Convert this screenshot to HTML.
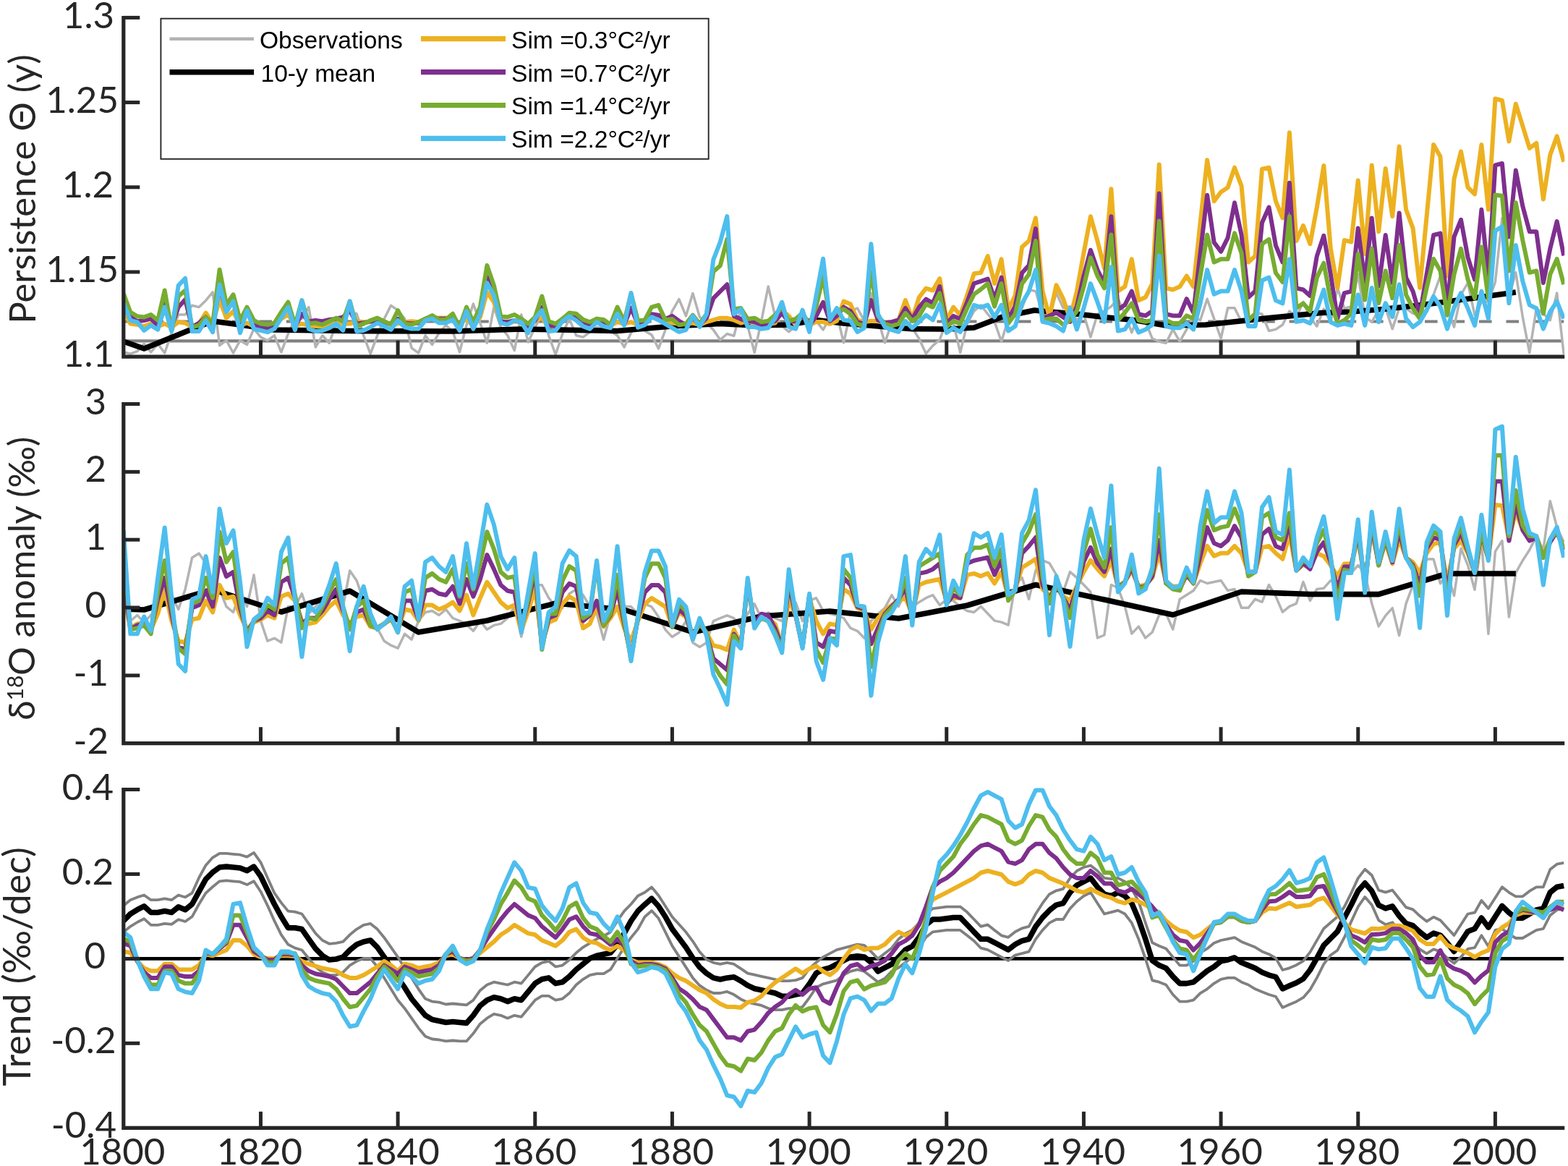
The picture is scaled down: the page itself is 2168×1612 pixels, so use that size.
<!DOCTYPE html>
<html><head><meta charset="utf-8"><title>Persistence and d18O trends</title>
<style>html,body{margin:0;padding:0;background:#fff;overflow:hidden}svg{display:block}</style>
</head><body>
<svg width="2168" height="1612" viewBox="0 0 2168 1612">
<rect width="2168" height="1612" fill="#fff"/>
<defs><clipPath id="c1"><rect x="170.8" y="0" width="1992.43" height="495"/></clipPath><clipPath id="c2"><rect x="170.8" y="540" width="1992.43" height="490"/></clipPath><clipPath id="c3"><rect x="170.8" y="1080" width="1992.43" height="482"/></clipPath></defs>
<g clip-path="url(#c1)">
<line x1="170.8" y1="471.4008000000003" x2="2160.23" y2="471.4008000000003" stroke="#808080" stroke-width="4.2"/>
<line x1="170.8" y1="444.5" x2="2162.23" y2="444.5" stroke="#808080" stroke-width="4.2" stroke-dasharray="17.6 19.88" stroke-dashoffset="37.3"/>
<polyline points="170.8,486.8 180.3,489.2 189.8,485.7 199.2,475.3 208.7,486.8 218.2,475.3 227.7,488.0 237.2,460.3 246.7,435.0 256.1,435.0 265.6,422.3 275.1,424.6 284.6,415.4 294.1,403.8 303.6,477.6 313.0,470.7 322.5,488.0 332.0,470.7 341.5,476.5 351.0,454.6 360.5,466.1 369.9,470.7 379.4,463.8 388.9,486.8 398.4,461.5 407.9,440.7 417.4,440.7 426.8,424.6 436.3,479.9 445.8,463.8 455.3,474.2 464.8,447.6 474.3,440.7 483.7,431.5 493.2,433.8 502.7,463.8 512.2,489.2 521.7,463.8 531.2,440.7 540.6,422.3 550.1,429.2 559.6,440.7 569.1,481.1 578.6,488.0 588.1,463.8 597.5,476.5 607.0,460.3 616.5,449.9 626.0,458.0 635.5,486.8 645.0,449.4 654.4,420.0 663.9,446.5 673.4,474.2 682.9,424.6 692.4,452.3 701.8,463.8 711.3,484.5 720.8,435.0 730.3,473.0 739.8,452.3 749.3,435.0 758.7,463.8 768.2,490.3 777.7,461.5 787.2,440.7 796.7,463.8 806.2,466.1 815.6,459.2 825.1,452.3 834.6,454.6 844.1,458.0 853.6,463.8 863.1,479.9 872.5,460.3 882.0,447.7 891.5,457.4 901.0,462.9 910.5,482.0 920.0,456.0 929.4,430.1 938.9,413.7 948.4,436.9 957.9,405.5 967.4,438.3 976.9,446.5 986.3,456.0 995.8,469.7 1005.3,461.5 1014.8,464.2 1024.3,427.4 1033.8,450.6 1043.2,487.4 1052.7,443.8 1062.2,396.0 1071.7,436.9 1081.2,450.6 1090.7,458.8 1100.1,450.6 1109.6,442.4 1119.1,450.6 1128.6,443.8 1138.1,456.0 1147.5,438.3 1157.0,434.2 1166.5,473.8 1176.0,430.1 1185.5,426.0 1195.0,443.8 1204.4,405.5 1213.9,441.0 1223.4,473.8 1232.9,446.5 1242.4,441.0 1251.9,443.8 1261.3,453.3 1270.8,468.3 1280.3,488.8 1289.8,477.9 1299.3,469.7 1308.8,443.8 1318.2,446.5 1327.7,487.4 1337.2,447.8 1346.7,430.1 1356.2,421.8 1365.7,434.3 1375.1,444.8 1384.6,472.2 1394.1,440.6 1403.6,419.5 1413.1,425.8 1422.6,400.5 1432.0,402.6 1441.5,434.3 1451.0,438.5 1460.5,404.7 1470.0,425.8 1479.5,423.7 1488.9,442.7 1498.4,434.3 1507.9,465.9 1517.4,434.3 1526.9,430.0 1536.4,423.7 1545.8,413.2 1555.3,434.3 1564.8,459.6 1574.3,434.3 1583.8,444.8 1593.2,468.0 1602.7,472.2 1612.2,474.3 1621.7,455.4 1631.2,472.2 1640.7,455.4 1650.1,438.5 1659.6,442.7 1669.1,413.2 1678.6,440.6 1688.1,468.0 1697.6,425.8 1707.0,425.8 1716.5,444.8 1726.0,440.6 1735.5,432.2 1745.0,434.3 1754.5,457.5 1763.9,455.4 1773.4,449.0 1782.9,430.0 1792.4,438.5 1801.9,417.4 1811.4,438.5 1820.8,451.1 1830.3,427.1 1839.8,445.2 1849.3,398.0 1858.8,426.3 1868.3,424.0 1877.7,379.2 1887.2,438.1 1896.7,445.2 1906.2,428.7 1915.7,426.3 1925.2,454.6 1934.6,426.3 1944.1,426.3 1953.6,433.4 1963.1,435.7 1972.6,428.7 1982.1,407.5 1991.5,381.5 2001.0,426.3 2010.5,452.2 2020.0,407.5 2029.5,391.0 2039.0,435.7 2048.4,418.1 2057.9,416.9 2067.4,389.8 2076.9,301.4 2086.4,409.8 2095.8,376.8 2105.3,438.1 2114.8,487.6 2124.3,426.3 2133.8,433.4 2143.3,442.8 2152.7,405.1 2162.2,489.9" fill="none" stroke="#b3b3b3" stroke-width="3.5" stroke-linejoin="round" />
<polyline points="170.8,472.0 199.2,482.0 265.6,455.0 294.1,444.0 332.0,449.0 379.4,456.0 483.7,457.5 626.0,458.0 720.8,455.0 853.6,457.5 929.4,451.0 995.8,447.5 1043.2,450.0 1090.7,449.0 1128.6,442.4 1166.5,447.0 1213.9,451.0 1261.3,454.7 1308.8,455.0 1346.7,453.0 1384.6,438.5 1430.1,429.0 1451.0,431.0 1488.9,434.0 1526.9,438.5 1569.5,442.7 1612.2,450.0 1667.2,449.0 1707.0,444.8 1745.0,440.6 1787.7,436.4 1826.5,432.5 1868.3,431.0 1911.9,427.5 1956.4,422.8 2001.0,416.9 2045.6,411.0 2095.8,404.0" fill="none" stroke="#000000" stroke-width="7.6" stroke-linejoin="round" />
<polyline points="170.8,429.2 180.3,447.6 189.8,448.8 199.2,451.1 208.7,447.6 218.2,451.1 227.7,447.6 237.2,452.3 246.7,445.3 256.1,446.5 265.6,452.3 275.1,447.6 284.6,432.6 294.1,447.6 303.6,414.2 313.0,439.6 322.5,430.3 332.0,449.9 341.5,446.5 351.0,451.1 360.5,452.3 369.9,452.3 379.4,451.1 388.9,440.7 398.4,435.0 407.9,449.9 417.4,447.6 426.8,449.9 436.3,451.1 445.8,451.1 455.3,448.8 464.8,446.5 474.3,447.6 483.7,447.6 493.2,444.2 502.7,445.3 512.2,445.3 521.7,445.3 531.2,447.6 540.6,447.6 550.1,447.6 559.6,445.3 569.1,444.2 578.6,445.3 588.1,441.9 597.5,440.7 607.0,439.6 616.5,439.6 626.0,441.9 635.5,447.6 645.0,440.7 654.4,451.1 663.9,438.4 673.4,403.8 682.9,417.7 692.4,445.3 701.8,447.6 711.3,444.2 720.8,445.3 730.3,449.9 739.8,443.0 749.3,439.6 758.7,451.1 768.2,452.3 777.7,440.7 787.2,433.8 796.7,440.7 806.2,447.6 815.6,448.8 825.1,440.7 834.6,447.6 844.1,449.9 853.6,445.3 863.1,447.6 872.5,445.3 882.0,448.8 891.5,446.5 901.0,438.3 910.5,436.9 920.0,442.4 929.4,446.5 938.9,447.8 948.4,447.8 957.9,446.5 967.4,449.2 976.9,445.1 986.3,442.4 995.8,439.7 1005.3,439.7 1014.8,442.4 1024.3,446.5 1033.8,443.8 1043.2,447.8 1052.7,450.6 1062.2,447.8 1071.7,446.5 1081.2,428.7 1090.7,436.9 1100.1,449.2 1109.6,435.6 1119.1,449.2 1128.6,445.1 1138.1,445.1 1147.5,447.8 1157.0,443.8 1166.5,416.5 1176.0,420.6 1185.5,442.4 1195.0,445.1 1204.4,443.8 1213.9,443.8 1223.4,446.5 1232.9,445.1 1242.4,442.4 1251.9,415.1 1261.3,441.0 1270.8,411.0 1280.3,398.7 1289.8,401.5 1299.3,385.1 1308.8,442.4 1318.2,424.7 1327.7,435.6 1337.2,408.3 1346.7,378.3 1356.2,377.1 1365.7,354.1 1375.1,392.1 1384.6,358.3 1394.1,427.9 1403.6,408.9 1413.1,341.4 1422.6,333.0 1432.0,301.4 1441.5,402.6 1451.0,438.5 1460.5,394.2 1470.0,413.2 1479.5,440.6 1488.9,402.6 1498.4,349.9 1507.9,299.2 1517.4,333.0 1526.9,371.0 1536.4,261.3 1545.8,402.6 1555.3,396.3 1564.8,358.3 1574.3,415.3 1583.8,411.1 1593.2,392.1 1602.7,227.5 1612.2,398.4 1621.7,400.5 1631.2,396.3 1640.7,381.5 1650.1,396.3 1659.6,307.7 1669.1,221.2 1678.6,278.1 1688.1,265.5 1697.6,259.2 1707.0,231.7 1716.5,257.0 1726.0,362.5 1735.5,354.1 1745.0,233.8 1754.5,231.7 1763.9,278.1 1773.4,301.4 1782.9,183.2 1792.4,333.0 1801.9,311.9 1811.4,337.2 1820.8,286.6 1830.3,229.0 1839.8,343.8 1849.3,398.0 1858.8,332.1 1868.3,334.4 1877.7,249.6 1887.2,350.9 1896.7,228.4 1906.2,320.3 1915.7,233.1 1925.2,299.1 1934.6,202.5 1944.1,289.7 1953.6,315.6 1963.1,398.0 1972.6,299.1 1982.1,200.1 1991.5,216.6 2001.0,381.5 2010.5,247.2 2020.0,209.5 2029.5,259.0 2039.0,268.4 2048.4,200.1 2057.9,289.7 2067.4,136.5 2076.9,138.9 2086.4,195.4 2095.8,143.6 2105.3,174.2 2114.8,204.8 2124.3,197.8 2133.8,275.5 2143.3,214.3 2152.7,188.3 2162.2,223.7" fill="none" stroke="#EDB120" stroke-width="6.0" stroke-linejoin="round" />
<polyline points="170.8,424.6 180.3,438.4 189.8,444.2 199.2,443.0 208.7,440.7 218.2,449.9 227.7,420.0 237.2,452.3 246.7,424.6 256.1,414.2 265.6,452.3 275.1,446.5 284.6,438.4 294.1,448.8 303.6,396.9 313.0,430.3 322.5,415.4 332.0,449.9 341.5,431.5 351.0,449.9 360.5,451.1 369.9,453.4 379.4,449.9 388.9,436.1 398.4,424.6 407.9,451.7 417.4,433.8 426.8,444.2 436.3,443.0 445.8,444.2 455.3,441.9 464.8,440.7 474.3,438.4 483.7,429.2 493.2,447.6 502.7,446.5 512.2,444.2 521.7,443.0 531.2,446.5 540.6,447.6 550.1,440.7 559.6,446.5 569.1,447.6 578.6,446.5 588.1,440.7 597.5,439.6 607.0,440.7 616.5,440.7 626.0,438.4 635.5,452.3 645.0,429.2 654.4,449.9 663.9,431.5 673.4,383.1 682.9,403.8 692.4,444.2 701.8,445.3 711.3,443.0 720.8,445.3 730.3,452.3 739.8,443.0 749.3,424.6 758.7,449.9 768.2,451.1 777.7,444.2 787.2,435.0 796.7,439.6 806.2,447.6 815.6,449.9 825.1,443.0 834.6,447.6 844.1,451.1 853.6,433.8 863.1,448.8 872.5,425.7 882.0,448.3 891.5,443.8 901.0,434.2 910.5,435.6 920.0,441.0 929.4,436.9 938.9,443.8 948.4,449.2 957.9,439.7 967.4,449.2 976.9,439.7 986.3,412.4 995.8,402.8 1005.3,393.3 1014.8,436.9 1024.3,441.0 1033.8,443.8 1043.2,445.1 1052.7,449.2 1062.2,447.8 1071.7,443.8 1081.2,432.8 1090.7,445.1 1100.1,443.8 1109.6,436.9 1119.1,450.6 1128.6,436.9 1138.1,417.8 1147.5,443.8 1157.0,436.9 1166.5,424.7 1176.0,430.1 1185.5,445.1 1195.0,447.8 1204.4,415.1 1213.9,442.4 1223.4,446.5 1232.9,445.1 1242.4,442.4 1251.9,426.0 1261.3,441.0 1270.8,424.7 1280.3,413.7 1289.8,419.2 1299.3,396.0 1308.8,447.8 1318.2,436.9 1327.7,441.0 1337.2,417.8 1346.7,391.9 1356.2,388.9 1365.7,385.7 1375.1,413.2 1384.6,383.6 1394.1,440.6 1403.6,423.7 1413.1,377.3 1422.6,366.8 1432.0,316.1 1441.5,440.6 1451.0,436.4 1460.5,432.2 1470.0,438.5 1479.5,444.8 1488.9,423.7 1498.4,381.5 1507.9,345.7 1517.4,373.1 1526.9,392.1 1536.4,299.2 1545.8,427.9 1555.3,421.6 1564.8,402.6 1574.3,434.3 1583.8,436.4 1593.2,430.0 1602.7,267.6 1612.2,434.3 1621.7,436.4 1631.2,436.4 1640.7,413.2 1650.1,432.2 1659.6,349.9 1669.1,269.7 1678.6,335.1 1688.1,347.8 1697.6,328.8 1707.0,280.3 1716.5,324.6 1726.0,411.1 1735.5,402.6 1745.0,307.7 1754.5,286.6 1763.9,339.3 1773.4,362.5 1782.9,252.8 1792.4,398.4 1801.9,400.5 1811.4,408.9 1820.8,354.1 1830.3,325.8 1839.8,379.2 1849.3,440.5 1858.8,405.1 1868.3,402.8 1877.7,315.6 1887.2,391.0 1896.7,301.4 1906.2,395.7 1915.7,325.0 1925.2,391.0 1934.6,294.4 1944.1,383.9 1953.6,402.8 1963.1,435.7 1972.6,379.2 1982.1,325.0 1991.5,322.6 2001.0,426.3 2010.5,327.4 2020.0,303.8 2029.5,355.6 2039.0,386.3 2048.4,289.7 2057.9,385.1 2067.4,228.4 2076.9,226.0 2086.4,327.4 2095.8,235.5 2105.3,284.9 2114.8,320.3 2124.3,320.3 2133.8,391.0 2143.3,343.8 2152.7,306.1 2162.2,353.3" fill="none" stroke="#7E2F8E" stroke-width="6.0" stroke-linejoin="round" />
<polyline points="170.8,406.1 180.3,431.5 189.8,437.3 199.2,438.4 208.7,435.0 218.2,443.0 227.7,401.5 237.2,456.9 246.7,409.6 256.1,401.5 265.6,452.3 275.1,449.9 284.6,438.4 294.1,447.6 303.6,372.7 313.0,421.1 322.5,407.3 332.0,443.0 341.5,424.6 351.0,443.0 360.5,447.6 369.9,448.8 379.4,446.5 388.9,431.5 398.4,417.7 407.9,449.9 417.4,415.4 426.8,447.6 436.3,446.5 445.8,448.8 455.3,444.2 464.8,439.6 474.3,444.2 483.7,416.5 493.2,451.1 502.7,447.6 512.2,443.0 521.7,439.6 531.2,444.2 540.6,448.8 550.1,429.2 559.6,447.6 569.1,448.8 578.6,445.3 588.1,440.7 597.5,436.1 607.0,441.9 616.5,441.9 626.0,433.8 635.5,452.3 645.0,424.6 654.4,445.3 663.9,424.6 673.4,366.9 682.9,394.6 692.4,437.3 701.8,438.4 711.3,435.0 720.8,440.7 730.3,447.6 739.8,438.4 749.3,409.6 758.7,444.2 768.2,447.6 777.7,440.7 787.2,432.6 796.7,433.8 806.2,441.9 815.6,445.3 825.1,440.7 834.6,441.9 844.1,448.8 853.6,424.6 863.1,444.2 872.5,406.1 882.0,443.4 891.5,442.4 901.0,424.7 910.5,421.9 920.0,442.4 929.4,441.0 938.9,449.2 948.4,447.8 957.9,435.6 967.4,447.8 976.9,434.2 986.3,375.5 995.8,367.3 1005.3,330.5 1014.8,427.4 1024.3,426.0 1033.8,441.0 1043.2,439.7 1052.7,445.1 1062.2,443.8 1071.7,435.6 1081.2,424.7 1090.7,443.8 1100.1,441.0 1109.6,432.8 1119.1,448.5 1128.6,423.3 1138.1,382.3 1147.5,439.7 1157.0,430.1 1166.5,427.4 1176.0,434.2 1185.5,447.8 1195.0,450.6 1204.4,375.5 1213.9,436.9 1223.4,447.8 1232.9,450.6 1242.4,447.8 1251.9,432.8 1261.3,443.8 1270.8,436.9 1280.3,420.6 1289.8,424.7 1299.3,405.5 1308.8,451.9 1318.2,443.8 1327.7,447.8 1337.2,426.0 1346.7,406.9 1356.2,400.0 1365.7,392.1 1375.1,423.7 1384.6,392.1 1394.1,446.9 1403.6,434.3 1413.1,392.1 1422.6,379.4 1432.0,333.0 1441.5,442.7 1451.0,440.6 1460.5,440.6 1470.0,449.0 1479.5,442.7 1488.9,430.0 1498.4,396.3 1507.9,356.2 1517.4,381.5 1526.9,398.4 1536.4,324.6 1545.8,442.7 1555.3,432.2 1564.8,419.5 1574.3,442.7 1583.8,444.8 1593.2,442.7 1602.7,305.6 1612.2,442.7 1621.7,446.9 1631.2,446.9 1640.7,436.4 1650.1,440.6 1659.6,381.5 1669.1,324.6 1678.6,362.5 1688.1,358.3 1697.6,358.3 1707.0,322.4 1716.5,349.9 1726.0,442.7 1735.5,434.3 1745.0,337.2 1754.5,330.9 1763.9,377.3 1773.4,390.0 1782.9,299.2 1792.4,425.8 1801.9,419.5 1811.4,430.0 1820.8,383.6 1830.3,363.7 1839.8,414.5 1849.3,447.5 1858.8,442.8 1868.3,433.4 1877.7,350.9 1887.2,414.5 1896.7,343.8 1906.2,419.2 1915.7,374.5 1925.2,412.2 1934.6,339.1 1944.1,407.5 1953.6,426.3 1963.1,440.5 1972.6,398.0 1982.1,358.0 1991.5,374.5 2001.0,435.7 2010.5,379.2 2020.0,343.8 2029.5,386.3 2039.0,412.2 2048.4,341.5 2057.9,413.4 2067.4,269.6 2076.9,270.8 2086.4,374.5 2095.8,280.2 2105.3,332.1 2114.8,376.8 2124.3,374.5 2133.8,433.4 2143.3,379.2 2152.7,358.0 2162.2,393.3" fill="none" stroke="#77AC30" stroke-width="6.0" stroke-linejoin="round" />
<polyline points="170.8,418.8 180.3,443.0 189.8,445.3 199.2,456.9 208.7,449.9 218.2,455.7 227.7,424.6 237.2,458.0 246.7,394.6 256.1,384.8 265.6,458.0 275.1,458.0 284.6,443.0 294.1,459.2 303.6,393.4 313.0,431.5 322.5,416.5 332.0,460.3 341.5,429.2 351.0,454.6 360.5,456.9 369.9,459.2 379.4,454.6 388.9,439.6 398.4,424.6 407.9,456.3 417.4,415.4 426.8,454.6 436.3,458.0 445.8,456.9 455.3,453.4 464.8,447.6 474.3,456.9 483.7,416.5 493.2,458.0 502.7,456.9 512.2,452.3 521.7,446.5 531.2,451.1 540.6,455.7 550.1,443.0 559.6,452.3 569.1,454.6 578.6,454.6 588.1,443.0 597.5,440.7 607.0,446.5 616.5,446.5 626.0,441.9 635.5,456.9 645.0,430.3 654.4,454.6 663.9,433.8 673.4,391.1 682.9,408.4 692.4,446.5 701.8,448.8 711.3,443.0 720.8,445.3 730.3,460.3 739.8,440.7 749.3,429.2 758.7,458.0 768.2,456.9 777.7,444.2 787.2,437.3 796.7,443.0 806.2,451.1 815.6,454.6 825.1,445.3 834.6,451.1 844.1,453.4 853.6,433.8 863.1,449.9 872.5,405.0 882.0,452.8 891.5,449.2 901.0,438.3 910.5,442.4 920.0,447.8 929.4,453.3 938.9,458.8 948.4,456.0 957.9,436.9 967.4,451.9 976.9,434.2 986.3,359.1 995.8,334.6 1005.3,299.1 1014.8,434.2 1024.3,427.4 1033.8,451.9 1043.2,451.9 1052.7,454.7 1062.2,453.3 1071.7,439.7 1081.2,417.8 1090.7,451.9 1100.1,454.7 1109.6,428.7 1119.1,458.8 1128.6,408.3 1138.1,357.8 1147.5,442.4 1157.0,426.0 1166.5,442.4 1176.0,443.8 1185.5,458.8 1195.0,453.3 1204.4,337.3 1213.9,434.2 1223.4,451.9 1232.9,456.0 1242.4,458.8 1251.9,443.8 1261.3,453.3 1270.8,445.1 1280.3,435.6 1289.8,442.4 1299.3,420.6 1308.8,460.1 1318.2,453.3 1327.7,458.8 1337.2,443.8 1346.7,421.9 1356.2,424.9 1365.7,421.6 1375.1,438.5 1384.6,421.6 1394.1,457.5 1403.6,451.1 1413.1,419.5 1422.6,402.6 1432.0,373.1 1441.5,444.8 1451.0,446.9 1460.5,451.1 1470.0,457.5 1479.5,425.8 1488.9,455.4 1498.4,425.8 1507.9,392.1 1517.4,417.4 1526.9,444.8 1536.4,368.9 1545.8,457.5 1555.3,455.4 1564.8,440.6 1574.3,459.6 1583.8,455.4 1593.2,449.0 1602.7,354.1 1612.2,451.1 1621.7,453.2 1631.2,453.2 1640.7,446.9 1650.1,455.4 1659.6,419.5 1669.1,373.1 1678.6,406.8 1688.1,402.6 1697.6,402.6 1707.0,373.1 1716.5,402.6 1726.0,451.1 1735.5,451.1 1745.0,387.8 1754.5,383.6 1763.9,415.3 1773.4,419.5 1782.9,358.3 1792.4,444.8 1801.9,442.7 1811.4,446.9 1820.8,427.9 1830.3,400.5 1839.8,445.2 1849.3,449.9 1858.8,447.5 1868.3,449.9 1877.7,407.5 1887.2,449.9 1896.7,398.0 1906.2,445.2 1915.7,419.2 1925.2,438.1 1934.6,393.3 1944.1,440.5 1953.6,452.2 1963.1,445.2 1972.6,428.7 1982.1,409.8 1991.5,424.0 2001.0,454.6 2010.5,425.1 2020.0,405.1 2029.5,426.3 2039.0,449.9 2048.4,402.8 2057.9,440.5 2067.4,319.1 2076.9,313.2 2086.4,419.2 2095.8,339.1 2105.3,388.6 2114.8,421.6 2124.3,426.3 2133.8,454.6 2143.3,431.0 2152.7,416.9 2162.2,440.5" fill="none" stroke="#4DBEEE" stroke-width="6.0" stroke-linejoin="round" />
</g>
<g clip-path="url(#c2)">
<polyline points="170.8,836.6 180.3,858.4 189.8,850.5 199.2,860.4 208.7,850.5 218.2,838.6 227.7,828.6 237.2,822.7 246.7,842.5 256.1,814.7 265.6,771.1 275.1,765.1 284.6,779.0 294.1,838.6 303.6,814.7 313.0,838.6 322.5,846.5 332.0,818.7 341.5,838.6 351.0,794.9 360.5,858.4 369.9,886.2 379.4,882.3 388.9,888.2 398.4,838.6 407.9,838.6 417.4,820.7 426.8,848.5 436.3,838.6 445.8,828.6 455.3,818.7 464.8,814.7 474.3,838.6 483.7,788.9 493.2,802.8 502.7,830.6 512.2,854.5 521.7,868.4 531.2,886.2 540.6,892.2 550.1,896.2 559.6,876.3 569.1,884.2 578.6,858.4 588.1,846.5 597.5,844.5 607.0,850.5 616.5,842.5 626.0,854.5 635.5,858.4 645.0,863.4 654.4,872.3 663.9,858.4 673.4,870.3 682.9,864.4 692.4,862.4 701.8,854.5 711.3,838.6 720.8,880.3 730.3,838.6 739.8,808.8 749.3,808.8 758.7,826.7 768.2,838.6 777.7,840.6 787.2,820.7 796.7,814.7 806.2,822.7 815.6,838.6 825.1,848.5 834.6,884.2 844.1,848.5 853.6,838.6 863.1,838.6 872.5,838.6 882.0,848.8 891.5,834.9 901.0,838.9 910.5,852.8 920.0,870.6 929.4,880.6 938.9,874.6 948.4,858.7 957.9,888.5 967.4,894.5 976.9,888.5 986.3,858.7 995.8,854.7 1005.3,850.8 1014.8,854.7 1024.3,868.6 1033.8,848.8 1043.2,834.9 1052.7,854.7 1062.2,846.8 1071.7,854.7 1081.2,858.7 1090.7,823.0 1100.1,832.9 1109.6,858.7 1119.1,830.6 1128.6,826.7 1138.1,844.5 1147.5,848.5 1157.0,850.5 1166.5,854.5 1176.0,868.4 1185.5,872.3 1195.0,882.3 1204.4,858.4 1213.9,848.5 1223.4,840.6 1232.9,822.7 1242.4,838.6 1251.9,818.7 1261.3,838.6 1270.8,832.6 1280.3,826.7 1289.8,822.7 1299.3,836.6 1308.8,828.6 1318.2,830.6 1327.7,838.6 1337.2,844.5 1346.7,846.5 1356.2,838.3 1365.7,848.2 1375.1,858.1 1384.6,860.1 1394.1,864.1 1403.6,808.5 1413.1,798.6 1422.6,828.4 1432.0,788.6 1441.5,774.7 1451.0,778.7 1460.5,794.6 1470.0,818.4 1479.5,790.6 1488.9,798.6 1498.4,808.5 1507.9,818.4 1517.4,882.0 1526.9,878.0 1536.4,808.5 1545.8,812.5 1555.3,838.3 1564.8,876.0 1574.3,866.1 1583.8,882.0 1593.2,874.0 1602.7,850.2 1612.2,848.2 1621.7,870.1 1631.2,828.4 1640.7,822.4 1650.1,816.4 1659.6,802.5 1669.1,806.5 1678.6,804.5 1688.1,802.5 1697.6,816.4 1707.0,814.5 1716.5,840.3 1726.0,840.3 1735.5,828.4 1745.0,832.3 1754.5,808.5 1763.9,824.4 1773.4,846.2 1782.9,838.3 1792.4,834.3 1801.9,804.5 1811.4,830.3 1820.8,814.5 1830.3,813.2 1839.8,802.6 1849.3,806.8 1858.8,781.5 1868.3,792.1 1877.7,781.5 1887.2,792.1 1896.7,834.3 1906.2,865.9 1915.7,851.1 1925.2,840.6 1934.6,878.6 1944.1,834.3 1953.6,808.9 1963.1,802.6 1972.6,773.1 1982.1,773.1 1991.5,806.8 2001.0,792.1 2010.5,823.6 2020.0,758.2 2029.5,781.4 2039.0,815.2 2048.4,747.7 2057.9,876.3 2067.4,762.4 2076.9,747.6 2086.4,853.0 2095.8,791.9 2105.3,775.0 2114.8,760.3 2124.3,741.3 2133.8,760.3 2143.3,692.8 2152.7,728.6 2162.2,749.7" fill="none" stroke="#b3b3b3" stroke-width="3.5" stroke-linejoin="round" />
<polyline points="170.8,842.0 199.2,843.0 294.1,815.0 388.9,846.0 483.7,817.0 578.6,874.0 673.4,858.0 768.2,834.0 863.1,843.0 957.9,874.0 1052.7,852.0 1147.5,845.0 1242.4,855.0 1337.2,837.0 1432.0,808.5 1526.9,829.0 1621.7,850.0 1716.5,818.0 1811.4,821.5 1906.2,821.6 2001.0,793.0 2095.8,793.0" fill="none" stroke="#000000" stroke-width="7.6" stroke-linejoin="round" />
<polyline points="170.8,822.7 180.3,868.4 189.8,862.4 199.2,860.4 208.7,870.3 218.2,848.5 227.7,814.7 237.2,858.4 246.7,886.2 256.1,888.2 265.6,856.4 275.1,854.5 284.6,830.6 294.1,846.5 303.6,808.8 313.0,826.7 322.5,824.7 332.0,850.5 341.5,870.3 351.0,860.4 360.5,856.4 369.9,850.5 379.4,854.5 388.9,824.7 398.4,820.7 407.9,830.6 417.4,858.4 426.8,862.4 436.3,860.4 445.8,850.5 455.3,838.6 464.8,830.6 474.3,850.5 483.7,862.4 493.2,852.5 502.7,850.5 512.2,866.4 521.7,868.4 531.2,862.4 540.6,856.4 550.1,870.3 559.6,842.5 569.1,844.5 578.6,858.4 588.1,836.6 597.5,836.6 607.0,842.5 616.5,838.6 626.0,832.6 635.5,844.5 645.0,822.7 654.4,850.5 663.9,826.7 673.4,804.8 682.9,818.7 692.4,832.6 701.8,840.6 711.3,836.6 720.8,872.3 730.3,844.5 739.8,814.7 749.3,890.2 758.7,860.4 768.2,856.4 777.7,834.6 787.2,824.7 796.7,830.6 806.2,868.4 815.6,862.4 825.1,838.6 834.6,866.4 844.1,854.5 853.6,838.6 863.1,868.4 872.5,886.2 882.0,858.7 891.5,834.9 901.0,826.9 910.5,832.9 920.0,838.9 929.4,866.7 938.9,846.8 948.4,852.8 957.9,878.6 967.4,862.7 976.9,874.6 986.3,892.5 995.8,894.5 1005.3,898.4 1014.8,870.6 1024.3,890.5 1033.8,811.1 1043.2,862.7 1052.7,850.8 1062.2,854.7 1071.7,862.7 1081.2,890.5 1090.7,828.9 1100.1,850.8 1109.6,892.5 1119.1,826.7 1128.6,858.4 1138.1,876.3 1147.5,862.4 1157.0,864.4 1166.5,814.7 1176.0,820.7 1185.5,840.6 1195.0,844.5 1204.4,870.3 1213.9,854.5 1223.4,844.5 1232.9,836.6 1242.4,830.6 1251.9,826.7 1261.3,848.5 1270.8,808.8 1280.3,804.8 1289.8,802.8 1299.3,800.8 1308.8,830.6 1318.2,826.7 1327.7,826.7 1337.2,794.9 1346.7,792.9 1356.2,796.6 1365.7,792.6 1375.1,806.5 1384.6,790.6 1394.1,824.4 1403.6,814.5 1413.1,784.7 1422.6,778.7 1432.0,772.8 1441.5,814.5 1451.0,824.4 1460.5,810.5 1470.0,824.4 1479.5,830.3 1488.9,810.5 1498.4,790.6 1507.9,774.7 1517.4,786.7 1526.9,796.6 1536.4,774.7 1545.8,810.5 1555.3,804.5 1564.8,788.6 1574.3,810.5 1583.8,808.5 1593.2,798.6 1602.7,764.8 1612.2,804.5 1621.7,810.5 1631.2,810.5 1640.7,794.6 1650.1,806.5 1659.6,778.7 1669.1,754.9 1678.6,768.8 1688.1,764.8 1697.6,764.8 1707.0,754.9 1716.5,764.8 1726.0,790.6 1735.5,790.6 1745.0,756.9 1754.5,754.9 1763.9,764.8 1773.4,772.8 1782.9,739.0 1792.4,788.6 1801.9,780.7 1811.4,784.7 1820.8,764.8 1830.3,768.9 1839.8,781.5 1849.3,796.3 1858.8,779.4 1868.3,779.4 1877.7,745.7 1887.2,802.6 1896.7,733.0 1906.2,779.4 1915.7,749.9 1925.2,779.4 1934.6,745.7 1944.1,771.0 1953.6,777.3 1963.1,792.1 1972.6,764.6 1982.1,752.0 1991.5,749.9 2001.0,804.7 2010.5,758.2 2020.0,747.7 2029.5,764.6 2039.0,792.0 2048.4,742.4 2057.9,773.0 2067.4,698.1 2076.9,699.1 2086.4,745.5 2095.8,707.6 2105.3,732.8 2114.8,741.3 2124.3,741.3 2133.8,770.8 2143.3,745.5 2152.7,735.0 2162.2,760.3" fill="none" stroke="#EDB120" stroke-width="6.0" stroke-linejoin="round" />
<polyline points="170.8,796.9 180.3,870.3 189.8,864.4 199.2,862.4 208.7,872.3 218.2,828.6 227.7,798.9 237.2,848.5 246.7,894.2 256.1,898.1 265.6,840.6 275.1,836.6 284.6,816.7 294.1,838.6 303.6,771.1 313.0,796.9 322.5,790.9 332.0,840.6 341.5,874.3 351.0,858.4 360.5,854.5 369.9,844.5 379.4,850.5 388.9,804.8 398.4,798.9 407.9,826.7 417.4,862.4 426.8,854.5 436.3,854.5 445.8,844.5 455.3,828.6 464.8,814.7 474.3,844.5 483.7,866.4 493.2,846.5 502.7,842.5 512.2,864.4 521.7,868.4 531.2,862.4 540.6,854.5 550.1,872.3 559.6,830.6 569.1,830.6 578.6,856.4 588.1,816.7 597.5,814.7 607.0,820.7 616.5,822.7 626.0,810.8 635.5,834.6 645.0,800.8 654.4,824.7 663.9,800.8 673.4,767.1 682.9,786.9 692.4,808.8 701.8,816.7 711.3,818.7 720.8,868.4 730.3,832.6 739.8,790.9 749.3,894.2 758.7,854.5 768.2,850.5 777.7,818.7 787.2,806.8 796.7,810.8 806.2,858.4 815.6,850.5 825.1,830.6 834.6,864.4 844.1,850.5 853.6,814.7 863.1,862.4 872.5,908.1 882.0,854.7 891.5,819.0 901.0,809.1 910.5,809.1 920.0,819.0 929.4,866.7 938.9,842.8 948.4,850.8 957.9,880.6 967.4,858.7 976.9,876.6 986.3,910.3 995.8,918.3 1005.3,926.2 1014.8,876.6 1024.3,892.5 1033.8,807.1 1043.2,862.7 1052.7,848.8 1062.2,850.8 1071.7,868.6 1081.2,894.5 1090.7,807.1 1100.1,850.8 1109.6,894.5 1119.1,824.7 1128.6,888.2 1138.1,894.2 1147.5,872.3 1157.0,874.3 1166.5,798.9 1176.0,808.8 1185.5,838.6 1195.0,842.5 1204.4,890.2 1213.9,868.4 1223.4,848.5 1232.9,838.6 1242.4,828.6 1251.9,812.8 1261.3,854.5 1270.8,792.9 1280.3,790.9 1289.8,786.9 1299.3,779.0 1308.8,834.6 1318.2,822.7 1327.7,826.7 1337.2,779.0 1346.7,775.0 1356.2,772.8 1365.7,770.8 1375.1,794.6 1384.6,774.7 1394.1,826.4 1403.6,816.4 1413.1,764.8 1422.6,754.9 1432.0,743.0 1441.5,808.5 1451.0,828.4 1460.5,808.5 1470.0,826.4 1479.5,842.3 1488.9,812.5 1498.4,776.7 1507.9,756.9 1517.4,778.7 1526.9,790.6 1536.4,758.9 1545.8,812.5 1555.3,804.5 1564.8,784.7 1574.3,812.5 1583.8,810.5 1593.2,796.6 1602.7,746.9 1612.2,806.5 1621.7,812.5 1631.2,814.5 1640.7,794.6 1650.1,806.5 1659.6,768.8 1669.1,729.1 1678.6,750.9 1688.1,754.9 1697.6,746.9 1707.0,727.1 1716.5,743.0 1726.0,794.6 1735.5,790.6 1745.0,739.0 1754.5,731.1 1763.9,754.9 1773.4,758.9 1782.9,723.1 1792.4,788.6 1801.9,778.7 1811.4,786.7 1820.8,762.8 1830.3,749.9 1839.8,777.3 1849.3,813.2 1858.8,783.6 1868.3,783.6 1877.7,735.1 1887.2,808.9 1896.7,724.6 1906.2,781.5 1915.7,745.7 1925.2,777.3 1934.6,735.1 1944.1,771.0 1953.6,781.5 1963.1,808.9 1972.6,758.3 1982.1,743.5 1991.5,745.7 2001.0,819.5 2010.5,754.0 2020.0,737.1 2029.5,762.4 2039.0,792.0 2048.4,737.1 2057.9,773.0 2067.4,665.4 2076.9,665.4 2086.4,747.6 2095.8,697.0 2105.3,732.8 2114.8,747.6 2124.3,743.4 2133.8,770.8 2143.3,749.7 2152.7,735.0 2162.2,760.3" fill="none" stroke="#7E2F8E" stroke-width="6.0" stroke-linejoin="round" />
<polyline points="170.8,761.1 180.3,870.3 189.8,868.4 199.2,864.4 208.7,876.3 218.2,818.7 227.7,775.0 237.2,838.6 246.7,896.2 256.1,904.1 265.6,834.6 275.1,830.6 284.6,798.9 294.1,826.7 303.6,735.3 313.0,777.0 322.5,763.1 332.0,830.6 341.5,878.3 351.0,858.4 360.5,850.5 369.9,836.6 379.4,842.5 388.9,779.0 398.4,771.1 407.9,822.7 417.4,868.4 426.8,854.5 436.3,856.4 445.8,838.6 455.3,818.7 464.8,800.8 474.3,838.6 483.7,870.3 493.2,838.6 502.7,830.6 512.2,864.4 521.7,868.4 531.2,862.4 540.6,854.5 550.1,874.3 559.6,818.7 569.1,814.7 578.6,852.5 588.1,798.9 597.5,792.9 607.0,800.8 616.5,804.8 626.0,786.9 635.5,824.7 645.0,779.0 654.4,814.7 663.9,779.0 673.4,735.3 682.9,759.1 692.4,790.9 701.8,798.9 711.3,796.9 720.8,868.4 730.3,828.6 739.8,779.0 749.3,898.1 758.7,848.5 768.2,848.5 777.7,802.8 787.2,783.0 796.7,788.9 806.2,854.5 815.6,848.5 825.1,779.0 834.6,864.4 844.1,848.5 853.6,794.9 863.1,858.4 872.5,912.0 882.0,852.8 891.5,799.1 901.0,779.3 910.5,779.3 920.0,799.1 929.4,866.7 938.9,834.9 948.4,844.8 957.9,882.5 967.4,858.7 976.9,876.6 986.3,918.3 995.8,934.2 1005.3,946.1 1014.8,878.6 1024.3,894.5 1033.8,803.1 1043.2,866.7 1052.7,854.7 1062.2,858.7 1071.7,874.6 1081.2,898.4 1090.7,795.2 1100.1,848.8 1109.6,894.5 1119.1,822.7 1128.6,898.1 1138.1,916.0 1147.5,882.3 1157.0,884.2 1166.5,786.9 1176.0,798.9 1185.5,836.6 1195.0,840.6 1204.4,922.0 1213.9,878.3 1223.4,850.5 1232.9,840.6 1242.4,830.6 1251.9,798.9 1261.3,858.4 1270.8,783.0 1280.3,777.0 1289.8,771.1 1299.3,765.1 1308.8,834.6 1318.2,812.8 1327.7,822.7 1337.2,767.1 1346.7,757.2 1356.2,756.9 1365.7,752.9 1375.1,782.7 1384.6,758.9 1394.1,830.3 1403.6,816.4 1413.1,750.9 1422.6,735.0 1432.0,711.2 1441.5,798.6 1451.0,834.3 1460.5,806.5 1470.0,826.4 1479.5,854.2 1488.9,814.5 1498.4,762.8 1507.9,731.1 1517.4,766.8 1526.9,784.7 1536.4,729.1 1545.8,814.5 1555.3,804.5 1564.8,778.7 1574.3,814.5 1583.8,810.5 1593.2,790.6 1602.7,711.2 1612.2,806.5 1621.7,814.5 1631.2,816.4 1640.7,790.6 1650.1,806.5 1659.6,748.9 1669.1,705.2 1678.6,733.0 1688.1,729.1 1697.6,727.1 1707.0,703.3 1716.5,727.1 1726.0,796.6 1735.5,790.6 1745.0,715.2 1754.5,709.2 1763.9,743.0 1773.4,746.9 1782.9,709.2 1792.4,788.6 1801.9,774.7 1811.4,780.7 1820.8,750.9 1830.3,733.0 1839.8,771.0 1849.3,832.2 1858.8,787.8 1868.3,790.0 1877.7,726.7 1887.2,813.2 1896.7,716.1 1906.2,781.5 1915.7,743.5 1925.2,775.2 1934.6,722.4 1944.1,771.0 1953.6,783.6 1963.1,823.7 1972.6,754.1 1982.1,735.1 1991.5,741.4 2001.0,834.3 2010.5,749.8 2020.0,728.7 2029.5,760.3 2039.0,792.0 2048.4,732.9 2057.9,773.0 2067.4,629.6 2076.9,629.6 2086.4,741.3 2095.8,678.0 2105.3,726.5 2114.8,741.3 2124.3,741.3 2133.8,770.8 2143.3,745.5 2152.7,735.0 2162.2,758.1" fill="none" stroke="#77AC30" stroke-width="6.0" stroke-linejoin="round" />
<polyline points="170.8,733.3 180.3,876.3 189.8,876.3 199.2,852.5 208.7,872.3 218.2,798.9 227.7,729.4 237.2,824.7 246.7,918.0 256.1,927.9 265.6,828.6 275.1,824.7 284.6,769.1 294.1,818.7 303.6,703.5 313.0,751.2 322.5,733.3 332.0,804.8 341.5,894.2 351.0,856.4 360.5,848.5 369.9,826.7 379.4,836.6 388.9,763.1 398.4,743.3 407.9,828.6 417.4,908.1 426.8,836.6 436.3,846.5 445.8,834.6 455.3,808.8 464.8,779.0 474.3,838.6 483.7,900.1 493.2,838.6 502.7,810.8 512.2,848.5 521.7,870.3 531.2,862.4 540.6,852.5 550.1,874.3 559.6,810.8 569.1,802.8 578.6,856.4 588.1,777.0 597.5,771.1 607.0,783.0 616.5,790.9 626.0,769.1 635.5,822.7 645.0,751.2 654.4,812.8 663.9,755.2 673.4,697.6 682.9,725.4 692.4,769.1 701.8,786.9 711.3,771.1 720.8,874.3 730.3,818.7 739.8,765.1 749.3,896.2 758.7,846.5 768.2,838.6 777.7,779.0 787.2,761.1 796.7,769.1 806.2,848.5 815.6,846.5 825.1,775.0 834.6,858.4 844.1,838.6 853.6,755.2 863.1,848.5 872.5,914.0 882.0,852.8 891.5,791.2 901.0,761.4 910.5,761.4 920.0,783.3 929.4,864.7 938.9,828.9 948.4,838.9 957.9,884.5 967.4,854.7 976.9,878.6 986.3,932.2 995.8,952.0 1005.3,973.9 1014.8,886.5 1024.3,896.4 1033.8,799.1 1043.2,868.6 1052.7,852.8 1062.2,858.7 1071.7,878.6 1081.2,902.4 1090.7,787.2 1100.1,848.8 1109.6,896.4 1119.1,820.7 1128.6,914.0 1138.1,939.8 1147.5,882.3 1157.0,892.2 1166.5,769.1 1176.0,767.1 1185.5,836.6 1195.0,838.6 1204.4,961.7 1213.9,888.2 1223.4,854.5 1232.9,846.5 1242.4,830.6 1251.9,769.1 1261.3,864.4 1270.8,777.0 1280.3,759.1 1289.8,769.1 1299.3,739.3 1308.8,836.6 1318.2,802.8 1327.7,820.7 1337.2,779.0 1346.7,737.3 1356.2,743.0 1365.7,737.0 1375.1,770.8 1384.6,739.0 1394.1,822.4 1403.6,816.4 1413.1,737.0 1422.6,719.1 1432.0,677.4 1441.5,778.7 1451.0,878.0 1460.5,796.6 1470.0,828.4 1479.5,893.9 1488.9,818.4 1498.4,746.9 1507.9,703.3 1517.4,739.0 1526.9,770.8 1536.4,671.5 1545.8,818.4 1555.3,806.5 1564.8,766.8 1574.3,820.4 1583.8,814.5 1593.2,784.7 1602.7,647.7 1612.2,802.5 1621.7,812.5 1631.2,810.5 1640.7,784.7 1650.1,804.5 1659.6,727.1 1669.1,679.4 1678.6,723.1 1688.1,715.2 1697.6,715.2 1707.0,679.4 1716.5,709.2 1726.0,790.6 1735.5,790.6 1745.0,701.3 1754.5,687.4 1763.9,735.0 1773.4,739.0 1782.9,649.6 1792.4,788.6 1801.9,770.8 1811.4,782.7 1820.8,743.0 1830.3,714.0 1839.8,768.9 1849.3,855.4 1858.8,792.1 1868.3,792.1 1877.7,718.2 1887.2,819.5 1896.7,707.7 1906.2,777.3 1915.7,735.1 1925.2,775.2 1934.6,703.5 1944.1,771.0 1953.6,787.8 1963.1,868.0 1972.6,749.9 1982.1,726.7 1991.5,735.1 2001.0,851.1 2010.5,744.5 2020.0,716.1 2029.5,756.1 2039.0,792.0 2048.4,711.8 2057.9,775.1 2067.4,593.7 2076.9,589.5 2086.4,737.1 2095.8,631.7 2105.3,703.3 2114.8,737.1 2124.3,741.3 2133.8,808.7 2143.3,745.5 2152.7,728.6 2162.2,770.8" fill="none" stroke="#4DBEEE" stroke-width="6.0" stroke-linejoin="round" />
</g>
<g clip-path="url(#c3)">
<line x1="170.8" y1="1325.4" x2="2162.23" y2="1325.4" stroke="#000" stroke-width="4.8"/>
<polyline points="170.8,1288.5 180.3,1280.8 189.8,1275.0 199.2,1270.2 208.7,1278.8 218.2,1278.8 227.7,1276.9 237.2,1277.9 246.7,1271.2 256.1,1274.0 265.6,1267.3 275.1,1250.0 284.6,1234.6 294.1,1226.0 303.6,1218.3 313.0,1217.3 322.5,1218.3 332.0,1219.2 341.5,1223.1 351.0,1218.3 360.5,1232.7 369.9,1251.9 379.4,1273.1 388.9,1292.3 398.4,1305.8 407.9,1310.6 417.4,1313.5 426.8,1325.0 436.3,1336.5 445.8,1344.2 455.3,1348.1 464.8,1348.1 474.3,1344.2 483.7,1334.6 493.2,1328.8 502.7,1325.0 512.2,1325.0 521.7,1336.5 531.2,1351.9 540.6,1367.3 550.1,1382.7 559.6,1394.2 569.1,1407.7 578.6,1421.2 588.1,1432.7 597.5,1436.5 607.0,1437.5 616.5,1439.4 626.0,1438.5 635.5,1439.4 645.0,1439.4 654.4,1428.8 663.9,1415.4 673.4,1407.7 682.9,1401.9 692.4,1403.8 701.8,1407.7 711.3,1403.8 720.8,1405.8 730.3,1394.2 739.8,1382.7 749.3,1376.9 758.7,1376.9 768.2,1382.7 777.7,1380.8 787.2,1373.1 796.7,1361.5 806.2,1353.8 815.6,1348.1 825.1,1346.2 834.6,1346.2 844.1,1340.4 853.6,1325.0 863.1,1309.6 872.5,1296.2 882.0,1284.6 891.5,1267.5 901.0,1259.1 910.5,1269.6 920.0,1288.6 929.4,1307.6 938.9,1322.4 948.4,1337.1 957.9,1351.9 967.4,1362.4 976.9,1368.8 986.3,1373.0 995.8,1373.0 1005.3,1370.9 1014.8,1375.1 1024.3,1381.4 1033.8,1385.7 1043.2,1387.8 1052.7,1389.9 1062.2,1394.1 1071.7,1396.2 1081.2,1396.2 1090.7,1394.1 1100.1,1394.1 1109.6,1392.0 1119.1,1379.3 1128.6,1365.2 1138.1,1360.3 1147.5,1357.8 1157.0,1355.3 1166.5,1347.9 1176.0,1342.9 1185.5,1340.4 1195.0,1342.9 1204.4,1350.3 1213.9,1357.8 1223.4,1352.8 1232.9,1342.9 1242.4,1337.9 1251.9,1330.5 1261.3,1323.1 1270.8,1310.7 1280.3,1295.8 1289.8,1288.3 1299.3,1287.1 1308.8,1285.9 1318.2,1285.9 1327.7,1285.9 1337.2,1293.3 1346.7,1300.7 1356.2,1310.7 1365.7,1313.1 1375.1,1318.1 1384.6,1323.1 1394.1,1328.0 1403.6,1320.6 1413.1,1318.1 1422.6,1315.6 1432.0,1298.3 1441.5,1285.9 1451.0,1275.9 1460.5,1271.0 1470.0,1271.0 1479.5,1256.1 1488.9,1246.2 1498.4,1238.7 1507.9,1233.8 1517.4,1248.7 1526.9,1263.5 1536.4,1261.1 1545.8,1258.6 1555.3,1263.5 1564.8,1275.9 1574.3,1298.3 1583.8,1325.5 1593.2,1355.3 1602.7,1357.7 1612.2,1361.5 1621.7,1375.0 1631.2,1384.6 1640.7,1384.6 1650.1,1382.7 1659.6,1373.1 1669.1,1367.3 1678.6,1359.6 1688.1,1353.8 1697.6,1351.9 1707.0,1351.9 1716.5,1357.7 1726.0,1361.5 1735.5,1367.3 1745.0,1371.2 1754.5,1375.0 1763.9,1377.8 1773.4,1392.9 1782.9,1388.8 1792.4,1384.7 1801.9,1379.2 1811.4,1368.3 1820.8,1351.9 1830.3,1332.8 1839.8,1320.5 1849.3,1313.7 1858.8,1296.0 1868.3,1274.1 1877.7,1253.7 1887.2,1240.0 1896.7,1251.0 1906.2,1272.3 1915.7,1278.2 1925.2,1275.2 1934.6,1287.1 1944.1,1299.0 1953.6,1303.5 1963.1,1312.4 1972.6,1318.4 1982.1,1312.4 1991.5,1315.4 2001.0,1324.3 2010.5,1331.8 2020.0,1322.9 2029.5,1311.9 2039.0,1310.1 2048.4,1293.3 2057.9,1308.2 2067.4,1285.9 2076.9,1284.0 2086.4,1291.4 2095.8,1297.0 2105.3,1297.0 2114.8,1291.4 2124.3,1285.9 2133.8,1284.0 2143.3,1265.4 2152.7,1257.9 2162.2,1256.1" fill="none" stroke="#808080" stroke-width="3.8" stroke-linejoin="round" />
<polyline points="170.8,1251.9 180.3,1244.2 189.8,1240.4 199.2,1237.5 208.7,1244.2 218.2,1244.2 227.7,1242.3 237.2,1244.2 246.7,1237.5 256.1,1240.4 265.6,1234.6 275.1,1213.5 284.6,1196.2 294.1,1185.6 303.6,1179.8 313.0,1179.8 322.5,1180.8 332.0,1181.7 341.5,1184.6 351.0,1178.8 360.5,1192.3 369.9,1213.5 379.4,1234.6 388.9,1248.1 398.4,1259.6 407.9,1260.6 417.4,1263.5 426.8,1276.9 436.3,1290.4 445.8,1300.0 455.3,1304.8 464.8,1303.8 474.3,1301.9 483.7,1292.3 493.2,1284.6 502.7,1278.8 512.2,1276.9 521.7,1284.6 531.2,1296.2 540.6,1309.6 550.1,1323.1 559.6,1338.5 569.1,1351.9 578.6,1367.3 588.1,1380.8 597.5,1384.6 607.0,1385.6 616.5,1388.5 626.0,1387.5 635.5,1388.5 645.0,1389.4 654.4,1382.7 663.9,1369.2 673.4,1361.5 682.9,1357.7 692.4,1359.6 701.8,1361.5 711.3,1357.7 720.8,1359.6 730.3,1348.1 739.8,1336.5 749.3,1330.8 758.7,1328.8 768.2,1336.5 777.7,1334.6 787.2,1326.9 796.7,1317.3 806.2,1309.6 815.6,1303.8 825.1,1298.1 834.6,1294.2 844.1,1288.5 853.6,1273.1 863.1,1259.6 872.5,1250.0 882.0,1238.5 891.5,1233.8 901.0,1226.4 910.5,1238.0 920.0,1252.7 929.4,1267.5 938.9,1278.1 948.4,1288.6 957.9,1301.3 967.4,1316.0 976.9,1326.6 986.3,1330.8 995.8,1332.9 1005.3,1330.8 1014.8,1332.9 1024.3,1339.2 1033.8,1345.6 1043.2,1347.7 1052.7,1349.8 1062.2,1351.9 1071.7,1354.0 1081.2,1356.1 1090.7,1356.1 1100.1,1355.1 1109.6,1351.9 1119.1,1339.2 1128.6,1330.5 1138.1,1323.1 1147.5,1318.1 1157.0,1313.1 1166.5,1310.7 1176.0,1308.2 1185.5,1305.7 1195.0,1306.9 1204.4,1315.6 1213.9,1325.5 1223.4,1318.1 1232.9,1310.7 1242.4,1298.3 1251.9,1290.8 1261.3,1285.9 1270.8,1275.9 1280.3,1263.5 1289.8,1256.1 1299.3,1254.9 1308.8,1253.6 1318.2,1253.6 1327.7,1253.6 1337.2,1261.1 1346.7,1271.0 1356.2,1280.9 1365.7,1278.4 1375.1,1285.9 1384.6,1293.3 1394.1,1295.8 1403.6,1288.3 1413.1,1283.4 1422.6,1280.9 1432.0,1263.5 1441.5,1248.7 1451.0,1236.2 1460.5,1231.3 1470.0,1228.8 1479.5,1213.9 1488.9,1204.0 1498.4,1199.0 1507.9,1196.6 1517.4,1204.0 1526.9,1213.9 1536.4,1215.2 1545.8,1213.9 1555.3,1218.9 1564.8,1228.8 1574.3,1246.2 1583.8,1275.9 1593.2,1303.2 1602.7,1307.7 1612.2,1311.5 1621.7,1323.1 1631.2,1334.6 1640.7,1334.6 1650.1,1328.8 1659.6,1317.3 1669.1,1311.5 1678.6,1303.8 1688.1,1300.0 1697.6,1298.1 1707.0,1296.2 1716.5,1301.9 1726.0,1305.8 1735.5,1309.6 1745.0,1315.4 1754.5,1319.2 1763.9,1324.6 1773.4,1341.0 1782.9,1338.3 1792.4,1334.2 1801.9,1328.7 1811.4,1316.4 1820.8,1300.1 1830.3,1283.7 1839.8,1275.5 1849.3,1267.3 1858.8,1253.7 1868.3,1234.6 1877.7,1214.1 1887.2,1201.8 1896.7,1210.0 1906.2,1230.6 1915.7,1233.6 1925.2,1230.6 1934.6,1242.5 1944.1,1254.4 1953.6,1257.4 1963.1,1266.3 1972.6,1273.8 1982.1,1267.8 1991.5,1272.3 2001.0,1282.7 2010.5,1293.1 2020.0,1278.2 2029.5,1263.5 2039.0,1261.7 2048.4,1244.9 2057.9,1256.1 2067.4,1241.2 2076.9,1226.3 2086.4,1233.8 2095.8,1239.3 2105.3,1239.3 2114.8,1231.9 2124.3,1226.3 2133.8,1226.3 2143.3,1202.1 2152.7,1194.7 2162.2,1192.8" fill="none" stroke="#808080" stroke-width="3.8" stroke-linejoin="round" />
<polyline points="170.8,1273.1 180.3,1263.5 189.8,1257.7 199.2,1252.9 208.7,1261.5 218.2,1261.5 227.7,1259.6 237.2,1261.5 246.7,1253.8 256.1,1257.7 265.6,1250.0 275.1,1232.7 284.6,1215.4 294.1,1205.8 303.6,1199.0 313.0,1198.1 322.5,1199.0 332.0,1200.0 341.5,1203.8 351.0,1198.1 360.5,1211.5 369.9,1230.8 379.4,1250.0 388.9,1267.3 398.4,1282.7 407.9,1282.7 417.4,1284.6 426.8,1298.1 436.3,1311.5 445.8,1321.2 455.3,1326.9 464.8,1326.0 474.3,1323.1 483.7,1313.5 493.2,1305.8 502.7,1301.9 512.2,1300.0 521.7,1309.6 531.2,1323.1 540.6,1338.5 550.1,1351.9 559.6,1365.4 569.1,1380.8 578.6,1392.3 588.1,1403.8 597.5,1409.6 607.0,1411.5 616.5,1413.5 626.0,1412.5 635.5,1413.5 645.0,1414.4 654.4,1403.8 663.9,1390.4 673.4,1382.7 682.9,1378.8 692.4,1380.8 701.8,1384.6 711.3,1380.8 720.8,1382.7 730.3,1371.2 739.8,1359.6 749.3,1353.8 758.7,1351.9 768.2,1359.6 777.7,1357.7 787.2,1350.0 796.7,1340.4 806.2,1332.7 815.6,1325.0 825.1,1321.2 834.6,1319.2 844.1,1317.3 853.6,1305.8 863.1,1290.4 872.5,1273.1 882.0,1259.6 891.5,1250.6 901.0,1242.2 910.5,1252.7 920.0,1267.5 929.4,1284.4 938.9,1297.0 948.4,1309.7 957.9,1324.5 967.4,1337.1 976.9,1345.6 986.3,1351.9 995.8,1354.0 1005.3,1351.9 1014.8,1350.8 1024.3,1356.1 1033.8,1362.4 1043.2,1366.7 1052.7,1368.8 1062.2,1370.9 1071.7,1373.0 1081.2,1377.2 1090.7,1377.2 1100.1,1375.1 1109.6,1373.0 1119.1,1360.3 1128.6,1345.4 1138.1,1340.4 1147.5,1337.9 1157.0,1333.0 1166.5,1328.0 1176.0,1323.1 1185.5,1321.8 1195.0,1323.1 1204.4,1330.5 1213.9,1342.9 1223.4,1337.9 1232.9,1333.0 1242.4,1323.1 1251.9,1313.1 1261.3,1308.2 1270.8,1295.8 1280.3,1278.4 1289.8,1271.0 1299.3,1271.0 1308.8,1269.7 1318.2,1268.5 1327.7,1268.5 1337.2,1278.4 1346.7,1288.3 1356.2,1298.3 1365.7,1298.3 1375.1,1303.2 1384.6,1308.2 1394.1,1313.1 1403.6,1305.7 1413.1,1300.7 1422.6,1298.3 1432.0,1280.9 1441.5,1268.5 1451.0,1258.6 1460.5,1251.1 1470.0,1248.7 1479.5,1233.8 1488.9,1223.8 1498.4,1218.9 1507.9,1213.9 1517.4,1226.3 1526.9,1236.2 1536.4,1238.7 1545.8,1233.8 1555.3,1238.7 1564.8,1248.7 1574.3,1271.0 1583.8,1298.3 1593.2,1328.0 1602.7,1334.6 1612.2,1338.5 1621.7,1350.0 1631.2,1359.6 1640.7,1359.6 1650.1,1357.7 1659.6,1350.0 1669.1,1342.3 1678.6,1336.5 1688.1,1328.8 1697.6,1326.9 1707.0,1324.0 1716.5,1330.8 1726.0,1334.6 1735.5,1338.5 1745.0,1344.2 1754.5,1348.1 1763.9,1350.6 1773.4,1366.9 1782.9,1362.8 1792.4,1358.7 1801.9,1353.3 1811.4,1341.0 1820.8,1324.6 1830.3,1306.9 1839.8,1297.3 1849.3,1287.8 1858.8,1268.7 1868.3,1251.0 1877.7,1231.8 1887.2,1220.9 1896.7,1231.8 1906.2,1251.4 1915.7,1255.9 1925.2,1252.9 1934.6,1266.3 1944.1,1276.7 1953.6,1279.7 1963.1,1288.6 1972.6,1296.1 1982.1,1290.1 1991.5,1293.1 2001.0,1303.5 2010.5,1315.4 2020.0,1302.0 2029.5,1287.7 2039.0,1284.0 2048.4,1269.1 2057.9,1282.1 2067.4,1267.3 2076.9,1252.4 2086.4,1261.7 2095.8,1269.1 2105.3,1269.1 2114.8,1263.5 2124.3,1257.9 2133.8,1256.1 2143.3,1233.8 2152.7,1226.3 2162.2,1224.4" fill="none" stroke="#000000" stroke-width="7.6" stroke-linejoin="round" />
<polyline points="170.8,1315.4 180.3,1317.3 189.8,1328.8 199.2,1338.5 208.7,1342.3 218.2,1342.3 227.7,1332.7 237.2,1332.7 246.7,1340.4 256.1,1340.4 265.6,1340.4 275.1,1334.6 284.6,1319.2 294.1,1321.2 303.6,1317.3 313.0,1313.5 322.5,1300.0 332.0,1300.0 341.5,1307.7 351.0,1319.2 360.5,1323.1 369.9,1325.0 379.4,1325.0 388.9,1321.2 398.4,1321.2 407.9,1322.1 417.4,1328.8 426.8,1332.7 436.3,1335.6 445.8,1338.5 455.3,1340.4 464.8,1342.3 474.3,1348.1 483.7,1351.9 493.2,1351.9 502.7,1348.1 512.2,1342.3 521.7,1336.5 531.2,1328.8 540.6,1334.6 550.1,1342.3 559.6,1332.7 569.1,1334.6 578.6,1338.5 588.1,1336.5 597.5,1334.6 607.0,1330.8 616.5,1321.2 626.0,1319.2 635.5,1325.0 645.0,1326.9 654.4,1325.0 663.9,1317.3 673.4,1309.6 682.9,1301.9 692.4,1292.3 701.8,1286.5 711.3,1278.8 720.8,1284.6 730.3,1290.4 739.8,1292.3 749.3,1300.0 758.7,1303.8 768.2,1307.7 777.7,1300.0 787.2,1288.5 796.7,1284.6 806.2,1296.2 815.6,1301.9 825.1,1303.8 834.6,1309.6 844.1,1313.5 853.6,1307.7 863.1,1313.5 872.5,1326.9 882.0,1330.8 891.5,1330.8 901.0,1330.8 910.5,1332.9 920.0,1337.1 929.4,1345.6 938.9,1351.9 948.4,1356.1 957.9,1362.4 967.4,1368.8 976.9,1373.0 986.3,1381.4 995.8,1387.8 1005.3,1392.0 1014.8,1392.0 1024.3,1393.0 1033.8,1385.7 1043.2,1383.5 1052.7,1377.2 1062.2,1366.7 1071.7,1358.2 1081.2,1351.9 1090.7,1345.6 1100.1,1339.2 1109.6,1345.6 1119.1,1339.2 1128.6,1335.5 1138.1,1342.9 1147.5,1347.9 1157.0,1340.4 1166.5,1325.5 1176.0,1313.1 1185.5,1308.2 1195.0,1313.1 1204.4,1310.7 1213.9,1310.7 1223.4,1305.7 1232.9,1295.8 1242.4,1288.3 1251.9,1293.3 1261.3,1288.3 1270.8,1278.4 1280.3,1258.6 1289.8,1243.7 1299.3,1238.7 1308.8,1233.8 1318.2,1228.8 1327.7,1223.8 1337.2,1218.9 1346.7,1213.9 1356.2,1206.5 1365.7,1204.0 1375.1,1206.5 1384.6,1209.0 1394.1,1218.9 1403.6,1222.6 1413.1,1218.9 1422.6,1209.0 1432.0,1204.0 1441.5,1206.5 1451.0,1213.9 1460.5,1217.6 1470.0,1221.4 1479.5,1226.3 1488.9,1231.3 1498.4,1233.8 1507.9,1228.8 1517.4,1233.8 1526.9,1238.7 1536.4,1241.2 1545.8,1246.2 1555.3,1248.7 1564.8,1243.7 1574.3,1246.2 1583.8,1251.1 1593.2,1256.1 1602.7,1261.5 1612.2,1273.1 1621.7,1280.8 1631.2,1286.5 1640.7,1288.5 1650.1,1296.2 1659.6,1292.3 1669.1,1284.6 1678.6,1276.9 1688.1,1273.1 1697.6,1267.3 1707.0,1265.4 1716.5,1271.2 1726.0,1275.0 1735.5,1273.1 1745.0,1261.5 1754.5,1255.8 1763.9,1256.4 1773.4,1252.3 1782.9,1248.2 1792.4,1253.7 1801.9,1252.3 1811.4,1251.0 1820.8,1244.1 1830.3,1241.4 1839.8,1252.3 1849.3,1264.6 1858.8,1275.5 1868.3,1285.1 1877.7,1287.8 1887.2,1290.5 1896.7,1283.7 1906.2,1284.2 1915.7,1282.7 1925.2,1279.7 1934.6,1279.7 1944.1,1282.7 1953.6,1287.1 1963.1,1299.0 1972.6,1305.0 1982.1,1305.0 1991.5,1294.6 2001.0,1306.5 2010.5,1311.0 2020.0,1313.9 2029.5,1317.5 2039.0,1323.1 2048.4,1317.5 2057.9,1313.8 2067.4,1291.4 2076.9,1282.1 2086.4,1276.6 2095.8,1265.4 2105.3,1261.7 2114.8,1261.7 2124.3,1261.7 2133.8,1261.7 2143.3,1256.1 2152.7,1250.5 2162.2,1250.5" fill="none" stroke="#EDB120" stroke-width="6.0" stroke-linejoin="round" />
<polyline points="170.8,1303.8 180.3,1307.7 189.8,1328.8 199.2,1344.2 208.7,1351.9 218.2,1351.9 227.7,1336.5 237.2,1336.5 246.7,1348.1 256.1,1350.0 265.6,1350.0 275.1,1342.3 284.6,1317.3 294.1,1319.2 303.6,1311.5 313.0,1303.8 322.5,1278.8 332.0,1278.8 341.5,1296.2 351.0,1315.4 360.5,1321.2 369.9,1326.9 379.4,1326.9 388.9,1319.2 398.4,1319.2 407.9,1320.2 417.4,1334.6 426.8,1342.3 436.3,1346.2 445.8,1348.1 455.3,1350.0 464.8,1353.8 474.3,1363.5 483.7,1373.1 493.2,1373.1 502.7,1365.4 512.2,1357.7 521.7,1346.2 531.2,1334.6 540.6,1340.4 550.1,1346.2 559.6,1336.5 569.1,1340.4 578.6,1344.2 588.1,1342.3 597.5,1340.4 607.0,1334.6 616.5,1319.2 626.0,1315.4 635.5,1325.0 645.0,1326.9 654.4,1325.0 663.9,1313.5 673.4,1298.1 682.9,1284.6 692.4,1271.2 701.8,1259.6 711.3,1250.0 720.8,1257.7 730.3,1265.4 739.8,1269.2 749.3,1280.8 758.7,1288.5 768.2,1296.2 777.7,1284.6 787.2,1271.2 796.7,1267.3 806.2,1280.8 815.6,1290.4 825.1,1292.3 834.6,1298.1 844.1,1305.8 853.6,1298.1 863.1,1307.7 872.5,1328.8 882.0,1334.6 891.5,1332.9 901.0,1332.9 910.5,1335.0 920.0,1339.2 929.4,1351.9 938.9,1366.7 948.4,1373.0 957.9,1381.4 967.4,1392.0 976.9,1396.2 986.3,1408.9 995.8,1421.5 1005.3,1434.2 1014.8,1434.2 1024.3,1438.4 1033.8,1425.7 1043.2,1423.6 1052.7,1413.1 1062.2,1400.4 1071.7,1392.0 1081.2,1385.7 1090.7,1375.1 1100.1,1368.8 1109.6,1375.1 1119.1,1366.7 1128.6,1365.2 1138.1,1382.6 1147.5,1387.5 1157.0,1365.2 1166.5,1345.4 1176.0,1335.5 1185.5,1333.0 1195.0,1340.4 1204.4,1335.5 1213.9,1333.0 1223.4,1328.0 1232.9,1318.1 1242.4,1305.7 1251.9,1300.7 1261.3,1293.3 1270.8,1278.4 1280.3,1253.6 1289.8,1226.3 1299.3,1218.9 1308.8,1213.9 1318.2,1206.5 1327.7,1196.6 1337.2,1186.6 1346.7,1176.7 1356.2,1169.3 1365.7,1166.8 1375.1,1171.8 1384.6,1176.7 1394.1,1191.6 1403.6,1194.1 1413.1,1189.1 1422.6,1174.2 1432.0,1166.8 1441.5,1166.8 1451.0,1179.2 1460.5,1186.6 1470.0,1199.0 1479.5,1209.0 1488.9,1213.9 1498.4,1213.9 1507.9,1204.0 1517.4,1211.4 1526.9,1221.4 1536.4,1221.4 1545.8,1231.3 1555.3,1233.8 1564.8,1228.8 1574.3,1236.2 1583.8,1243.7 1593.2,1253.6 1602.7,1265.4 1612.2,1278.8 1621.7,1292.3 1631.2,1300.0 1640.7,1301.9 1650.1,1313.5 1659.6,1303.8 1669.1,1290.4 1678.6,1276.9 1688.1,1275.0 1697.6,1267.3 1707.0,1267.3 1716.5,1273.1 1726.0,1275.0 1735.5,1273.1 1745.0,1257.7 1754.5,1246.2 1763.9,1245.5 1773.4,1240.0 1782.9,1233.2 1792.4,1240.0 1801.9,1240.0 1811.4,1238.7 1820.8,1226.4 1830.3,1225.0 1839.8,1242.8 1849.3,1260.5 1858.8,1276.9 1868.3,1293.2 1877.7,1297.3 1887.2,1302.8 1896.7,1291.9 1906.2,1291.6 1915.7,1290.1 1925.2,1284.2 1934.6,1284.2 1944.1,1290.1 1953.6,1299.0 1963.1,1321.4 1972.6,1330.3 1982.1,1330.3 1991.5,1313.9 2001.0,1333.3 2010.5,1339.2 2020.0,1342.2 2029.5,1347.3 2039.0,1358.4 2048.4,1349.1 2057.9,1341.7 2067.4,1302.6 2076.9,1293.3 2086.4,1287.7 2095.8,1261.7 2105.3,1257.9 2114.8,1259.8 2124.3,1261.7 2133.8,1261.7 2143.3,1257.9 2152.7,1254.2 2162.2,1257.9" fill="none" stroke="#7E2F8E" stroke-width="6.0" stroke-linejoin="round" />
<polyline points="170.8,1298.1 180.3,1301.9 189.8,1326.9 199.2,1348.1 208.7,1361.5 218.2,1361.5 227.7,1342.3 237.2,1342.3 246.7,1355.8 256.1,1359.6 265.6,1359.6 275.1,1346.2 284.6,1315.4 294.1,1319.2 303.6,1309.6 313.0,1301.9 322.5,1265.4 332.0,1265.4 341.5,1288.5 351.0,1311.5 360.5,1319.2 369.9,1330.8 379.4,1330.8 388.9,1317.3 398.4,1317.3 407.9,1318.3 417.4,1340.4 426.8,1351.9 436.3,1355.8 445.8,1357.7 455.3,1359.6 464.8,1367.3 474.3,1380.8 483.7,1392.3 493.2,1390.4 502.7,1378.8 512.2,1367.3 521.7,1350.0 531.2,1336.5 540.6,1344.2 550.1,1355.8 559.6,1340.4 569.1,1344.2 578.6,1350.0 588.1,1348.1 597.5,1346.2 607.0,1338.5 616.5,1319.2 626.0,1311.5 635.5,1325.0 645.0,1328.8 654.4,1326.9 663.9,1313.5 673.4,1288.5 682.9,1271.2 692.4,1250.0 701.8,1234.6 711.3,1217.3 720.8,1226.9 730.3,1242.3 739.8,1246.2 749.3,1265.4 758.7,1275.0 768.2,1286.5 777.7,1273.1 787.2,1253.8 796.7,1248.1 806.2,1269.2 815.6,1280.8 825.1,1284.6 834.6,1294.2 844.1,1301.9 853.6,1288.5 863.1,1303.8 872.5,1332.7 882.0,1336.5 891.5,1335.0 901.0,1335.0 910.5,1337.1 920.0,1341.4 929.4,1356.1 938.9,1375.1 948.4,1385.7 957.9,1402.5 967.4,1417.3 976.9,1425.7 986.3,1442.6 995.8,1459.5 1005.3,1472.2 1014.8,1474.3 1024.3,1480.6 1033.8,1463.7 1043.2,1465.8 1052.7,1455.3 1062.2,1438.4 1071.7,1425.7 1081.2,1421.5 1090.7,1402.5 1100.1,1389.9 1109.6,1398.3 1119.1,1394.1 1128.6,1392.5 1138.1,1417.3 1147.5,1427.2 1157.0,1402.4 1166.5,1370.2 1176.0,1357.8 1185.5,1355.3 1195.0,1367.7 1204.4,1362.7 1213.9,1360.3 1223.4,1357.8 1232.9,1347.9 1242.4,1328.0 1251.9,1318.1 1261.3,1325.5 1270.8,1303.2 1280.3,1271.0 1289.8,1226.3 1299.3,1204.0 1308.8,1194.1 1318.2,1184.2 1327.7,1166.8 1337.2,1154.4 1346.7,1139.5 1356.2,1127.1 1365.7,1129.6 1375.1,1134.6 1384.6,1139.5 1394.1,1161.8 1403.6,1166.8 1413.1,1161.8 1422.6,1142.0 1432.0,1127.1 1441.5,1129.6 1451.0,1147.0 1460.5,1156.9 1470.0,1174.2 1479.5,1186.6 1488.9,1194.1 1498.4,1194.1 1507.9,1179.2 1517.4,1186.6 1526.9,1206.5 1536.4,1206.5 1545.8,1223.8 1555.3,1221.4 1564.8,1218.9 1574.3,1228.8 1583.8,1238.7 1593.2,1268.5 1602.7,1265.4 1612.2,1282.7 1621.7,1300.0 1631.2,1311.5 1640.7,1313.5 1650.1,1326.9 1659.6,1313.5 1669.1,1296.2 1678.6,1276.9 1688.1,1275.0 1697.6,1267.3 1707.0,1267.3 1716.5,1273.1 1726.0,1275.0 1735.5,1273.1 1745.0,1253.8 1754.5,1236.5 1763.9,1235.9 1773.4,1229.1 1782.9,1220.9 1792.4,1231.8 1801.9,1230.5 1811.4,1229.1 1820.8,1212.7 1830.3,1208.7 1839.8,1231.8 1849.3,1256.4 1858.8,1275.5 1868.3,1300.1 1877.7,1306.9 1887.2,1315.1 1896.7,1298.7 1906.2,1300.5 1915.7,1299.0 1925.2,1290.1 1934.6,1290.1 1944.1,1299.0 1953.6,1309.5 1963.1,1336.2 1972.6,1348.2 1982.1,1346.7 1991.5,1325.8 2001.0,1352.6 2010.5,1361.5 2020.0,1366.0 2029.5,1373.3 2039.0,1388.2 2048.4,1377.1 2057.9,1367.8 2067.4,1317.5 2076.9,1300.8 2086.4,1295.2 2095.8,1261.7 2105.3,1256.1 2114.8,1257.9 2124.3,1259.8 2133.8,1261.7 2143.3,1254.2 2152.7,1246.8 2162.2,1246.8" fill="none" stroke="#77AC30" stroke-width="6.0" stroke-linejoin="round" />
<polyline points="170.8,1288.5 180.3,1296.2 189.8,1326.9 199.2,1350.0 208.7,1367.3 218.2,1367.3 227.7,1344.2 237.2,1346.2 246.7,1367.3 256.1,1371.2 265.6,1373.1 275.1,1355.8 284.6,1313.5 294.1,1319.2 303.6,1309.6 313.0,1298.1 322.5,1250.0 332.0,1248.1 341.5,1280.8 351.0,1309.6 360.5,1319.2 369.9,1334.6 379.4,1334.6 388.9,1315.4 398.4,1315.4 407.9,1319.2 417.4,1348.1 426.8,1363.5 436.3,1369.2 445.8,1373.1 455.3,1375.0 464.8,1384.6 474.3,1403.8 483.7,1419.2 493.2,1417.3 502.7,1398.1 512.2,1380.8 521.7,1357.7 531.2,1340.4 540.6,1353.8 550.1,1367.3 559.6,1344.2 569.1,1350.0 578.6,1359.6 588.1,1355.8 597.5,1353.8 607.0,1342.3 616.5,1319.2 626.0,1307.7 635.5,1326.9 645.0,1332.7 654.4,1328.8 663.9,1313.5 673.4,1284.6 682.9,1261.5 692.4,1234.6 701.8,1213.5 711.3,1192.3 720.8,1203.8 730.3,1226.9 739.8,1228.8 749.3,1251.9 758.7,1263.5 768.2,1273.1 777.7,1255.8 787.2,1226.9 796.7,1221.2 806.2,1248.1 815.6,1261.5 825.1,1263.5 834.6,1276.9 844.1,1286.5 853.6,1267.3 863.1,1288.5 872.5,1330.8 882.0,1344.2 891.5,1341.4 901.0,1337.1 910.5,1339.2 920.0,1345.6 929.4,1364.6 938.9,1385.7 948.4,1398.3 957.9,1417.3 967.4,1438.4 976.9,1451.1 986.3,1472.2 995.8,1491.1 1005.3,1514.3 1014.8,1516.5 1024.3,1529.1 1033.8,1508.0 1043.2,1510.1 1052.7,1497.5 1062.2,1476.4 1071.7,1461.6 1081.2,1457.4 1090.7,1438.4 1100.1,1419.4 1109.6,1434.2 1119.1,1430.0 1128.6,1427.2 1138.1,1459.5 1147.5,1469.4 1157.0,1439.6 1166.5,1402.4 1176.0,1380.1 1185.5,1377.6 1195.0,1382.6 1204.4,1397.5 1213.9,1387.5 1223.4,1387.5 1232.9,1380.1 1242.4,1352.8 1251.9,1333.0 1261.3,1345.4 1270.8,1318.1 1280.3,1283.4 1289.8,1233.8 1299.3,1191.6 1308.8,1181.7 1318.2,1169.3 1327.7,1154.4 1337.2,1137.0 1346.7,1117.2 1356.2,1099.8 1365.7,1094.9 1375.1,1099.8 1384.6,1104.8 1394.1,1134.6 1403.6,1144.5 1413.1,1139.5 1422.6,1112.2 1432.0,1092.4 1441.5,1092.4 1451.0,1114.7 1460.5,1127.1 1470.0,1147.0 1479.5,1161.8 1488.9,1174.2 1498.4,1176.7 1507.9,1156.9 1517.4,1166.8 1526.9,1189.1 1536.4,1184.2 1545.8,1209.0 1555.3,1206.5 1564.8,1199.0 1574.3,1218.9 1583.8,1233.8 1593.2,1266.0 1602.7,1261.5 1612.2,1280.8 1621.7,1301.9 1631.2,1317.3 1640.7,1319.2 1650.1,1342.3 1659.6,1319.2 1669.1,1296.2 1678.6,1275.0 1688.1,1273.1 1697.6,1263.5 1707.0,1263.5 1716.5,1269.2 1726.0,1273.1 1735.5,1273.1 1745.0,1250.0 1754.5,1230.8 1763.9,1225.0 1773.4,1215.5 1782.9,1203.2 1792.4,1220.9 1801.9,1218.2 1811.4,1214.1 1820.8,1192.3 1830.3,1185.5 1839.8,1215.5 1849.3,1248.2 1858.8,1275.5 1868.3,1308.3 1877.7,1319.2 1887.2,1331.5 1896.7,1309.6 1906.2,1312.4 1915.7,1311.0 1925.2,1297.6 1934.6,1297.6 1944.1,1311.0 1953.6,1325.8 1963.1,1366.0 1972.6,1377.9 1982.1,1377.9 1991.5,1349.6 2001.0,1382.4 2010.5,1391.3 2020.0,1397.3 2029.5,1405.0 2039.0,1427.3 2048.4,1412.4 2057.9,1399.4 2067.4,1336.1 2076.9,1311.9 2086.4,1304.5 2095.8,1259.8 2105.3,1246.8 2114.8,1254.2 2124.3,1261.7 2133.8,1269.1 2143.3,1256.1 2152.7,1246.8 2162.2,1250.5" fill="none" stroke="#4DBEEE" stroke-width="6.0" stroke-linejoin="round" />
</g>
<path d="M170.8,22.0 V493.2 H2163.23" fill="none" stroke="#262626" stroke-width="5.2" stroke-linejoin="miter" stroke-linecap="butt"/>
<line x1="170.8" y1="376.0000000000004" x2="193.3" y2="376.0000000000004" stroke="#262626" stroke-width="5"/>
<line x1="170.8" y1="258.8000000000003" x2="193.3" y2="258.8000000000003" stroke="#262626" stroke-width="5"/>
<line x1="170.8" y1="141.6000000000002" x2="193.3" y2="141.6000000000002" stroke="#262626" stroke-width="5"/>
<line x1="170.8" y1="24.40000000000009" x2="193.3" y2="24.40000000000009" stroke="#262626" stroke-width="5"/>
<line x1="360.46000000000004" y1="493.2" x2="360.46000000000004" y2="470.7" stroke="#262626" stroke-width="5"/>
<line x1="550.1200000000001" y1="493.2" x2="550.1200000000001" y2="470.7" stroke="#262626" stroke-width="5"/>
<line x1="739.78" y1="493.2" x2="739.78" y2="470.7" stroke="#262626" stroke-width="5"/>
<line x1="929.44" y1="493.2" x2="929.44" y2="470.7" stroke="#262626" stroke-width="5"/>
<line x1="1119.1000000000001" y1="493.2" x2="1119.1000000000001" y2="470.7" stroke="#262626" stroke-width="5"/>
<line x1="1308.76" y1="493.2" x2="1308.76" y2="470.7" stroke="#262626" stroke-width="5"/>
<line x1="1498.42" y1="493.2" x2="1498.42" y2="470.7" stroke="#262626" stroke-width="5"/>
<line x1="1688.0800000000002" y1="493.2" x2="1688.0800000000002" y2="470.7" stroke="#262626" stroke-width="5"/>
<line x1="1877.74" y1="493.2" x2="1877.74" y2="470.7" stroke="#262626" stroke-width="5"/>
<line x1="2067.4" y1="493.2" x2="2067.4" y2="470.7" stroke="#262626" stroke-width="5"/>
<path d="M170.8,556.1 V1027.7 H2163.23" fill="none" stroke="#262626" stroke-width="5.2" stroke-linejoin="miter" stroke-linecap="butt"/>
<line x1="170.8" y1="933.86" x2="193.3" y2="933.86" stroke="#262626" stroke-width="5"/>
<line x1="170.8" y1="840.02" x2="193.3" y2="840.02" stroke="#262626" stroke-width="5"/>
<line x1="170.8" y1="746.1800000000001" x2="193.3" y2="746.1800000000001" stroke="#262626" stroke-width="5"/>
<line x1="170.8" y1="652.34" x2="193.3" y2="652.34" stroke="#262626" stroke-width="5"/>
<line x1="170.8" y1="558.5" x2="193.3" y2="558.5" stroke="#262626" stroke-width="5"/>
<line x1="360.46000000000004" y1="1027.7" x2="360.46000000000004" y2="1005.2" stroke="#262626" stroke-width="5"/>
<line x1="550.1200000000001" y1="1027.7" x2="550.1200000000001" y2="1005.2" stroke="#262626" stroke-width="5"/>
<line x1="739.78" y1="1027.7" x2="739.78" y2="1005.2" stroke="#262626" stroke-width="5"/>
<line x1="929.44" y1="1027.7" x2="929.44" y2="1005.2" stroke="#262626" stroke-width="5"/>
<line x1="1119.1000000000001" y1="1027.7" x2="1119.1000000000001" y2="1005.2" stroke="#262626" stroke-width="5"/>
<line x1="1308.76" y1="1027.7" x2="1308.76" y2="1005.2" stroke="#262626" stroke-width="5"/>
<line x1="1498.42" y1="1027.7" x2="1498.42" y2="1005.2" stroke="#262626" stroke-width="5"/>
<line x1="1688.0800000000002" y1="1027.7" x2="1688.0800000000002" y2="1005.2" stroke="#262626" stroke-width="5"/>
<line x1="1877.74" y1="1027.7" x2="1877.74" y2="1005.2" stroke="#262626" stroke-width="5"/>
<line x1="2067.4" y1="1027.7" x2="2067.4" y2="1005.2" stroke="#262626" stroke-width="5"/>
<path d="M170.8,1089.1 V1559.3 H2163.23" fill="none" stroke="#262626" stroke-width="5.2" stroke-linejoin="miter" stroke-linecap="butt"/>
<line x1="170.8" y1="1442.3500000000001" x2="193.3" y2="1442.3500000000001" stroke="#262626" stroke-width="5"/>
<line x1="170.8" y1="1325.4" x2="193.3" y2="1325.4" stroke="#262626" stroke-width="5"/>
<line x1="170.8" y1="1208.45" x2="193.3" y2="1208.45" stroke="#262626" stroke-width="5"/>
<line x1="170.8" y1="1091.5" x2="193.3" y2="1091.5" stroke="#262626" stroke-width="5"/>
<line x1="360.46000000000004" y1="1559.3" x2="360.46000000000004" y2="1536.8" stroke="#262626" stroke-width="5"/>
<line x1="550.1200000000001" y1="1559.3" x2="550.1200000000001" y2="1536.8" stroke="#262626" stroke-width="5"/>
<line x1="739.78" y1="1559.3" x2="739.78" y2="1536.8" stroke="#262626" stroke-width="5"/>
<line x1="929.44" y1="1559.3" x2="929.44" y2="1536.8" stroke="#262626" stroke-width="5"/>
<line x1="1119.1000000000001" y1="1559.3" x2="1119.1000000000001" y2="1536.8" stroke="#262626" stroke-width="5"/>
<line x1="1308.76" y1="1559.3" x2="1308.76" y2="1536.8" stroke="#262626" stroke-width="5"/>
<line x1="1498.42" y1="1559.3" x2="1498.42" y2="1536.8" stroke="#262626" stroke-width="5"/>
<line x1="1688.0800000000002" y1="1559.3" x2="1688.0800000000002" y2="1536.8" stroke="#262626" stroke-width="5"/>
<line x1="1877.74" y1="1559.3" x2="1877.74" y2="1536.8" stroke="#262626" stroke-width="5"/>
<line x1="2067.4" y1="1559.3" x2="2067.4" y2="1536.8" stroke="#262626" stroke-width="5"/>
<g style='font-family:Lato,"Liberation Sans",Arial,sans-serif' font-size="51" fill="#262626"><text x="158.0" y="507.2" text-anchor="end">1.1</text><text x="164.0" y="389.5" text-anchor="end">1.15</text><text x="157.0" y="273.3" text-anchor="end">1.2</text><text x="164.0" y="155.6" text-anchor="end">1.25</text><text x="158.0" y="38.9" text-anchor="end">1.3</text><text x="147.0" y="572.5" text-anchor="end">3</text><text x="147.0" y="666.3" text-anchor="end">2</text><text x="147.0" y="760.2" text-anchor="end">1</text><text x="147.0" y="854.0" text-anchor="end">0</text><text x="150.0" y="947.9" text-anchor="end">-1</text><text x="150.0" y="1041.7" text-anchor="end">-2</text><text x="157.0" y="1105.5" text-anchor="end">0.4</text><text x="157.0" y="1222.5" text-anchor="end">0.2</text><text x="146.0" y="1339.4" text-anchor="end">0</text><text x="160.5" y="1456.4" text-anchor="end">-0.2</text><text x="161.0" y="1572.8" text-anchor="end">-0.4</text><text x="169.3" y="1609.5" text-anchor="middle">1800</text><text x="359.0" y="1609.5" text-anchor="middle">1820</text><text x="548.6" y="1609.5" text-anchor="middle">1840</text><text x="738.3" y="1609.5" text-anchor="middle">1860</text><text x="927.9" y="1609.5" text-anchor="middle">1880</text><text x="1117.6" y="1609.5" text-anchor="middle">1900</text><text x="1307.3" y="1609.5" text-anchor="middle">1920</text><text x="1496.9" y="1609.5" text-anchor="middle">1940</text><text x="1686.6" y="1609.5" text-anchor="middle">1960</text><text x="1876.2" y="1609.5" text-anchor="middle">1980</text><text x="2065.9" y="1609.5" text-anchor="middle">2000</text></g>
<g style='font-family:Lato,"Liberation Sans",Arial,sans-serif' fill="#262626">
<text transform="translate(48.6,261.3) rotate(-90)" text-anchor="middle" font-size="50.5">Persistence <tspan>Θ</tspan> (y)</text>
<text transform="translate(48.4,799.8) rotate(-90)" text-anchor="middle" font-size="49.4">δ<tspan font-size="30" dy="-16.5">18</tspan><tspan dy="16.5">O anomaly (‰)</tspan></text>
<text transform="translate(41.5,1336.3) rotate(-90)" text-anchor="middle" font-size="51.8">Trend (‰/dec)</text>
</g>
<g style='font-family:"Liberation Sans",Arial,Helvetica,sans-serif' font-size="33.6" fill="#000"><rect x="222.4" y="25.7" width="757.3" height="194.1" fill="#fff" stroke="#262626" stroke-width="1.9"/><line x1="234.5" y1="53.7" x2="351" y2="53.7" stroke="#b3b3b3" stroke-width="4.4"/><line x1="234.5" y1="99.75" x2="351.1" y2="99.75" stroke="#000" stroke-width="7.5"/><line x1="582" y1="53.7" x2="699" y2="53.7" stroke="#EDB120" stroke-width="7.2"/><text x="707" y="67.3">Sim =<tspan>0.3°C²/yr</tspan></text><line x1="582" y1="99.6" x2="699" y2="99.6" stroke="#7E2F8E" stroke-width="7.2"/><text x="707" y="112.8">Sim =<tspan>0.7°C²/yr</tspan></text><line x1="582" y1="145.5" x2="699" y2="145.5" stroke="#77AC30" stroke-width="7.2"/><text x="707" y="158.3">Sim =<tspan>1.4°C²/yr</tspan></text><line x1="582" y1="191.4" x2="699" y2="191.4" stroke="#4DBEEE" stroke-width="7.2"/><text x="707" y="203.8">Sim =<tspan>2.2°C²/yr</tspan></text><text x="359" y="66.9">Observations</text><text x="360.5" y="112.5">10-y mean</text></g>
</svg>
</body></html>
